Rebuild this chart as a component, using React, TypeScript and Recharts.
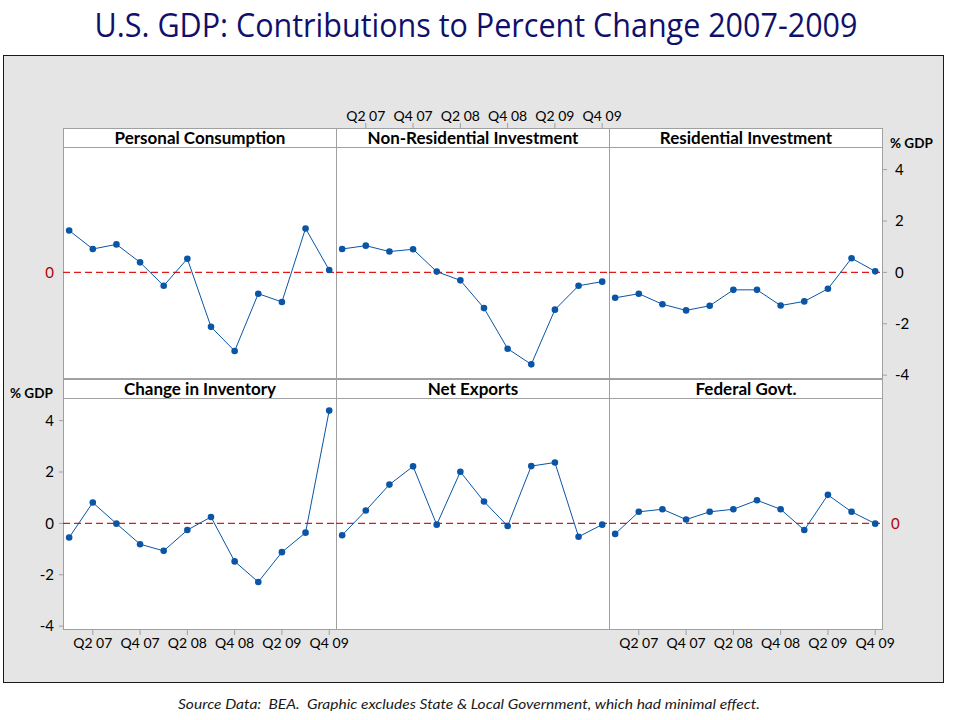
import React from 'react';
import { LineChart, Line, XAxis, YAxis, ReferenceLine, ReferenceArea } from 'recharts';

// quarters Q1 2007 .. Q4 2009
const quarters = ['Q1 07', 'Q2 07', 'Q3 07', 'Q4 07', 'Q1 08', 'Q2 08', 'Q3 08', 'Q4 08', 'Q1 09', 'Q2 09', 'Q3 09', 'Q4 09'];

const personalConsumption = [1.63, 0.91, 1.09, 0.39, -0.52, 0.53, -2.12, -3.06, -0.83, -1.15, 1.71, 0.09];
const nonResidential = [0.91, 1.04, 0.81, 0.9, 0.03, -0.31, -1.39, -2.97, -3.58, -1.45, -0.52, -0.36];
const residential = [-0.99, -0.83, -1.24, -1.48, -1.3, -0.68, -0.68, -1.29, -1.13, -0.64, 0.55, 0.04];
const inventory = [-0.55, 0.81, -0.01, -0.81, -1.07, -0.26, 0.25, -1.48, -2.28, -1.12, -0.36, 4.39];
const netExports = [-0.46, 0.5, 1.51, 2.22, -0.05, 2.01, 0.85, -0.1, 2.23, 2.37, -0.52, -0.05];
const federalGovt = [-0.41, 0.45, 0.55, 0.15, 0.45, 0.55, 0.9, 0.55, -0.26, 1.11, 0.45, -0.01];

const panelTitles = ['Personal Consumption', 'Non-Residential Investment', 'Residential Investment', 'Change in Inventory', 'Net Exports', 'Federal Govt.'];
const xTicks = [2, 4, 6, 8, 10, 12];
const yTicks = [-4, -2, 0, 2, 4];
const zeroTick = [0];

const FONT = 'Lato, "Open Sans", sans-serif';
const BLUE = '#0A55A5';
const GRID = '#A0A0A0';
const Y_DOMAIN: [number, number] = [-4.15, 5.62];
const HEADER_BOTTOM = 4.86;
const X_DOMAIN: [number, number] = [0.74, 12.33];

const colX = [63, 336, 609];
const colW = 274;
const rowY = [128, 379];
const rowH = 251;
const PAD = 20; // room around each chart so edge labels are not clipped

type PanelProps = {
  title: string;
  values: number[];
  col: number;
  row: number;
  left?: 'ticks' | 'zero';
  right?: 'ticks' | 'zero';
  top?: boolean;
  bottom?: boolean;
};

const Panel = ({ title, values, col, row, left, right, top, bottom }: PanelProps) => {
  const data = quarters.map((q, i) => ({ x: i + 1, label: q, v: values[i] }));
  const lw = left ? 50 : 0;
  const rw = right ? 45 : 0;
  const th = top ? 28 : 0;
  const bh = bottom ? 30 : 0;
  const xFmt = (v: number) => quarters[v - 1];
  const xTick = { fill: '#000', fontSize: 14, fontFamily: FONT };
  return (
    <>
      <div style={{ position: 'absolute', left: colX[col], top: rowY[row], width: colW, height: rowH, background: '#fff', border: `1px solid ${GRID}`, boxSizing: 'border-box' }} />
      <div style={{ position: 'absolute', left: colX[col] - lw - PAD, top: rowY[row] - th - PAD }}>
        <LineChart
          width={colW + lw + rw + PAD * 2}
          height={rowH + th + bh + PAD * 2}
          data={data}
          margin={{ top: PAD, right: PAD, bottom: PAD, left: PAD }}
        >
          <XAxis
            xAxisId="b"
            type="number"
            dataKey="x"
            domain={X_DOMAIN}
            allowDataOverflow
            ticks={xTicks}
            interval={0}
            tickFormatter={xFmt}
            hide={!bottom}
            height={bh}
            axisLine={false}
            tickLine={{ stroke: GRID }}
            tickSize={5}
            tickMargin={3}
            tick={xTick}
          />
          {top && (
            <XAxis
              xAxisId="t"
              orientation="top"
              type="number"
              dataKey="x"
              domain={X_DOMAIN}
              allowDataOverflow
              ticks={xTicks}
              interval={0}
              tickFormatter={xFmt}
              height={th}
              axisLine={false}
              tickLine={{ stroke: GRID }}
              tickSize={5}
              tickMargin={2}
              tick={xTick}
            />
          )}
          <YAxis
            yAxisId="l"
            type="number"
            domain={Y_DOMAIN}
            allowDataOverflow
            ticks={left === 'zero' ? zeroTick : yTicks}
            interval={0}
            hide={!left}
            width={lw}
            axisLine={false}
            tickLine={left === 'ticks' ? { stroke: GRID } : false}
            tickSize={left === 'ticks' ? 4 : 0}
            tickMargin={left === 'ticks' ? 5 : 9}
            tick={{ fill: left === 'zero' ? '#B00000' : '#000', fontSize: 15, fontFamily: FONT }}
          />
          {right && (
            <YAxis
              yAxisId="r"
              orientation="right"
              type="number"
              domain={Y_DOMAIN}
              allowDataOverflow
              ticks={right === 'zero' ? zeroTick : yTicks}
              interval={0}
              width={rw}
              axisLine={false}
              tickLine={right === 'ticks' ? { stroke: GRID } : false}
              tickSize={right === 'ticks' ? 4 : 0}
              tickMargin={8}
              tick={{ fill: right === 'zero' ? '#B00000' : '#000', fontSize: 15, fontFamily: FONT }}
            />
          )}
          <ReferenceArea
            xAxisId="b"
            yAxisId="l"
            y1={HEADER_BOTTOM}
            y2={Y_DOMAIN[1]}
            fill="none"
            stroke="none"
            label={{ value: title, position: 'center', fill: '#000', fontSize: 17, fontWeight: 'bold', fontFamily: FONT }}
          />
          <ReferenceLine xAxisId="b" yAxisId="l" y={HEADER_BOTTOM} stroke={GRID} />
          <ReferenceLine xAxisId="b" yAxisId="l" y={0} stroke="#E01818" strokeWidth={1.3} strokeDasharray="7 4" />
          <Line
            xAxisId="b"
            yAxisId="l"
            type="linear"
            dataKey="v"
            stroke={BLUE}
            strokeWidth={1}
            dot={{ r: 3.3, fill: BLUE, stroke: 'none' }}
            isAnimationActive={false}
          />
        </LineChart>
      </div>
    </>
  );
};

const gdpLabel: React.CSSProperties = { position: 'absolute', fontFamily: FONT, fontWeight: 'bold', fontSize: 13.5, color: '#000' };

export default function App() {
  return (
    <div style={{ position: 'relative', width: 960, height: 720, background: '#fff', fontFamily: FONT }}>
      <style>{'body{margin:0}'}</style>
      <svg width={960} height={54} style={{ position: 'absolute', left: 0, top: 0 }}>
        <text x={476} y={37} textAnchor="middle" fontSize={32} fill="#10106B" fontFamily='"Open Sans", sans-serif' textLength={763} lengthAdjust="spacingAndGlyphs">
          U.S. GDP: Contributions to Percent Change 2007-2009
        </text>
      </svg>
      <div style={{ position: 'absolute', left: 3, top: 55, width: 941, height: 628, background: '#E5E5E5', border: '1px solid #1A1A1A', boxSizing: 'border-box' }} />
      <Panel title={panelTitles[0]} values={personalConsumption} col={0} row={0} left="zero" />
      <Panel title={panelTitles[1]} values={nonResidential} col={1} row={0} top />
      <Panel title={panelTitles[2]} values={residential} col={2} row={0} right="ticks" />
      <Panel title={panelTitles[3]} values={inventory} col={0} row={1} left="ticks" bottom />
      <Panel title={panelTitles[4]} values={netExports} col={1} row={1} />
      <Panel title={panelTitles[5]} values={federalGovt} col={2} row={1} right="zero" bottom />
      <div style={{ ...gdpLabel, left: 890, top: 135 }}>% GDP</div>
      <div style={{ ...gdpLabel, left: 10, top: 385 }}>% GDP</div>
      <svg width={960} height={30} style={{ position: 'absolute', left: 0, top: 690 }}>
        <text x={469} y={19} textAnchor="middle" fontSize={14} fontStyle="italic" fill="#1A1A1A" fontFamily={FONT} textLength={582} lengthAdjust="spacingAndGlyphs" style={{ whiteSpace: 'pre' }}>
          {'Source Data:  BEA.  Graphic excludes State & Local Government, which had minimal effect.'}
        </text>
      </svg>
    </div>
  );
}
